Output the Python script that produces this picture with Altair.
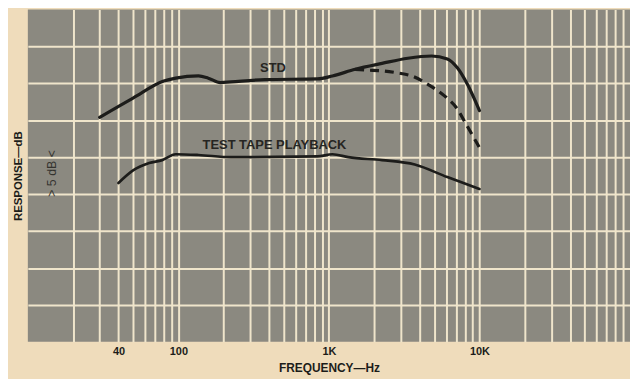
import altair as alt
import pandas as pd

# --- data ---
std_freq = [30, 50, 80, 96, 136, 158, 190, 224, 376, 840, 1055, 1495, 2254, 3342, 4808, 6120, 7130, 8300, 10000]
std_db = [30.4, 33.0, 35.3, 35.7, 36.0, 35.7, 35.1, 35.2, 35.5, 35.6, 36.0, 36.9, 37.7, 38.4, 38.7, 38.3, 37.1, 34.9, 31.3]

dash_freq = [1495, 1740, 2254, 2870, 3550, 4590, 5860, 7030, 8190, 10000]
dash_db = [36.9, 36.8, 36.7, 36.4, 36.0, 34.8, 33.3, 31.7, 29.4, 26.3]

tape_freq = [40, 50, 64, 78, 96, 136, 224, 840, 1055, 1344, 2254, 3715, 6120, 10000]
tape_db = [21.5, 23.2, 24.2, 24.6, 25.4, 25.3, 25.0, 25.1, 25.4, 25.0, 24.6, 24.0, 22.3, 20.7]

label_text = ["STD", "TEST TAPE PLAYBACK"]
label_freq = [425, 435]
label_db = [37.1, 26.7]

scale_text = ["> 5 dB <"]
scale_freq = [14.4]
scale_db = [22.8]

grid_freqs = [20, 30, 40, 50, 60, 70, 80, 90,
              100, 200, 300, 400, 500, 600, 700, 800, 900,
              1000, 2000, 3000, 4000, 5000, 6000, 7000, 8000, 9000,
              10000, 20000, 30000, 40000, 50000, 60000, 70000, 80000, 90000]
tick_values = [40, 100, 1000, 10000]
tick_labels = ["40", "100", "1K", "10K"]
grid_db = [5, 10, 15, 20, 25, 30, 35, 40]

PAPER = "#efdcbb"
PLOT_BG = "#8b8980"
GRID = "#efe5cb"
INK = "#1c1c1a"
FONT = "Liberation Sans"

label_expr = " : ".join(
    f"datum.value == {v} ? '{t}'" for v, t in zip(tick_values, tick_labels)
) + " : ''"

xscale = alt.Scale(type="log", domain=[10, 100000], nice=False)
yscale = alt.Scale(domain=[0, 45], nice=False, zero=False)

xaxis = alt.Axis(values=grid_freqs, labelExpr=label_expr, title="FREQUENCY\u2014Hz",
                 grid=True, ticks=False, domain=False, labelFlush=False,
                 labelFont=FONT, labelFontSize=11, labelFontWeight="bold", labelColor=INK,
                 labelPadding=4, titleFont=FONT, titleFontSize=12, titleFontWeight="bold",
                 titleColor=INK, titlePadding=6, labelOverlap=False)
yaxis = alt.Axis(values=grid_db, labels=False, title="RESPONSE\u2014dB", grid=True,
                 ticks=False, domain=False, titleFont=FONT, titleFontSize=11.5,
                 titleFontWeight="bold", titleColor=INK, titlePadding=4)

std_df = pd.DataFrame({"f": std_freq, "db": std_db})
dash_df = pd.DataFrame({"f": dash_freq, "db": dash_db})
tape_df = pd.DataFrame({"f": tape_freq, "db": tape_db})
lab_df = pd.DataFrame({"f": label_freq, "db": label_db, "t": label_text})
sc_df = pd.DataFrame({"f": scale_freq, "db": scale_db, "t": scale_text})

base_x = alt.X("f:Q", scale=xscale, axis=xaxis)
base_y = alt.Y("db:Q", scale=yscale, axis=yaxis)

std = alt.Chart(std_df).mark_line(color=INK, strokeWidth=3.2, interpolate="monotone",
                                  strokeCap="round").encode(x=base_x, y=base_y)
dash = alt.Chart(dash_df).mark_line(color=INK, strokeWidth=3.2, interpolate="monotone",
                                    strokeDash=[9, 6]).encode(
    x=alt.X("f:Q", scale=xscale), y=alt.Y("db:Q", scale=yscale))
tape = alt.Chart(tape_df).mark_line(color=INK, strokeWidth=2.7, interpolate="monotone",
                                    strokeCap="round").encode(
    x=alt.X("f:Q", scale=xscale), y=alt.Y("db:Q", scale=yscale))
labels = alt.Chart(lab_df).mark_text(font=FONT, fontSize=13, fontWeight="bold",
                                     color="#262522").encode(
    x=alt.X("f:Q", scale=xscale), y=alt.Y("db:Q", scale=yscale), text="t:N")
scale_lab = alt.Chart(sc_df).mark_text(font=FONT, fontSize=12.5, angle=270,
                                       color="#34332f").encode(
    x=alt.X("f:Q", scale=xscale), y=alt.Y("db:Q", scale=yscale), text="t:N")

chart = alt.layer(std, dash, tape, labels, scale_lab).properties(
    width=607, height=335,
    autosize=alt.AutoSizeParams(type="none"),
    padding={"left": 20, "top": 0, "right": 0, "bottom": 36},
    background=PAPER,
).configure_view(fill=PLOT_BG, stroke=None).configure_axis(
    gridColor=GRID, gridWidth=2, gridOpacity=1
)

chart.save("out.html", embed_options={"renderer": "svg", "actions": False})
